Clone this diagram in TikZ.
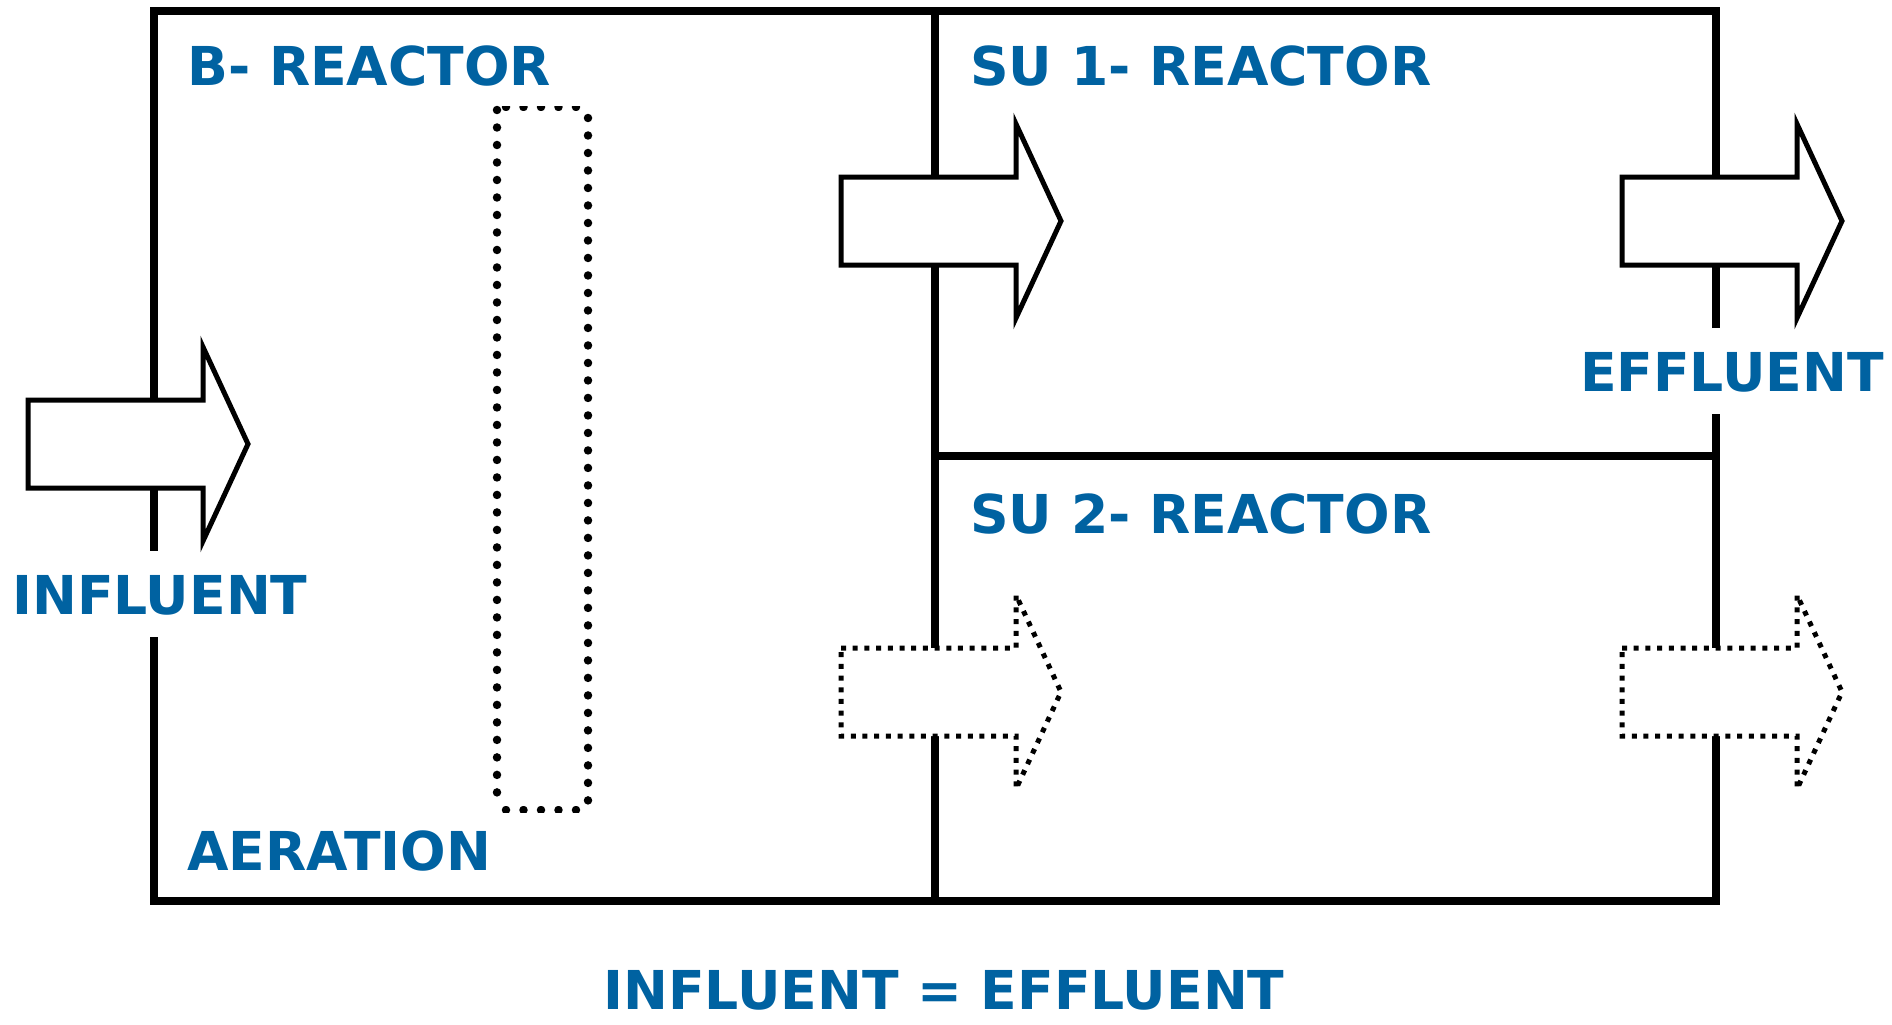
\documentclass[tikz,border=0pt]{standalone}
\usepackage{fontspec}
\setmainfont{DejaVu Sans}
\usepackage{xcolor}
\definecolor{TankBlue}{HTML}{0062A1}
\definecolor{WallBlack}{HTML}{000000}
\usepackage{tikz}
\usetikzlibrary{positioning,calc}
\tikzset{
  wall/.style={draw=WallBlack,line width=0.17cm,line join=miter},
  lbl/.style={font=\bfseries\fontsize{30.5}{36}\selectfont,text=TankBlue,inner sep=0pt,
    text depth=0pt},
  solidflow/.style={draw=WallBlack,fill=white,line width=0.1cm,line join=miter},
  dotflow/.style={draw=WallBlack,fill=white,line width=0.1cm,
    dash pattern=on 0.1cm off 0.134cm},
  airdots/.style={draw=WallBlack,line width=0.17cm,line cap=round,
    dash pattern=on 0pt off 0.35cm},
  flowarrow/.pic={\path[pic actions] (0,-44) -- (175,-44) -- (175,-97) -- (220,0)
    -- (175,97) -- (175,44) -- (0,44) -- cycle;},
}

\begin{document}
\begin{tikzpicture}[x=0.02cm,y=-0.02cm]
\useasboundingbox (0,0) rectangle (1892,1024);
\draw[wall] (1716,328) -- (1716,11) -- (154,11) -- (154,551);
\draw[wall] (154,637) -- (154,901) -- (1716,901) -- (1716,414);
\draw[wall] (935,11) -- (935,901);
\draw[wall] (935,456) -- (1716,456);

\draw[airdots] (497,110) -- (497,805);
\draw[airdots] (588,118) -- (588,805);
\begin{scope}
  \clip (490,107) rectangle (600,111);
  \draw[airdots] (506,107) -- (580,107);
\end{scope}
\begin{scope}
  \clip (490,806) rectangle (600,812);
  \draw[airdots] (506,810) -- (580,810);
\end{scope}

\pic[solidflow] at (28,444)  {flowarrow};
\pic[solidflow] at (841,221) {flowarrow};
\pic[solidflow] at (1622,221){flowarrow};
\pic[dotflow]   at (841,692) {flowarrow};
\pic[dotflow]   at (1622,692){flowarrow};

\node[lbl,anchor=base west] (breac) at (187,86)  {B- REACTOR};
\node[lbl,anchor=base west] (suone) at (970,86)  {SU 1- REACTOR};
\node[lbl,anchor=base west] (sutwo) at (970,533) {SU 2- REACTOR};
\node[lbl,anchor=base west] (infl)  at (12,614)  {INFLUENT};
\node[lbl,anchor=base east] (effl)  at (1884,391){EFFLUENT};
\node[lbl,anchor=base west] (aer)   at (187,870) {AERATION};
\node[lbl,anchor=base]      (bal)   at (944,1009){INFLUENT = EFFLUENT};
\end{tikzpicture}
\end{document}
